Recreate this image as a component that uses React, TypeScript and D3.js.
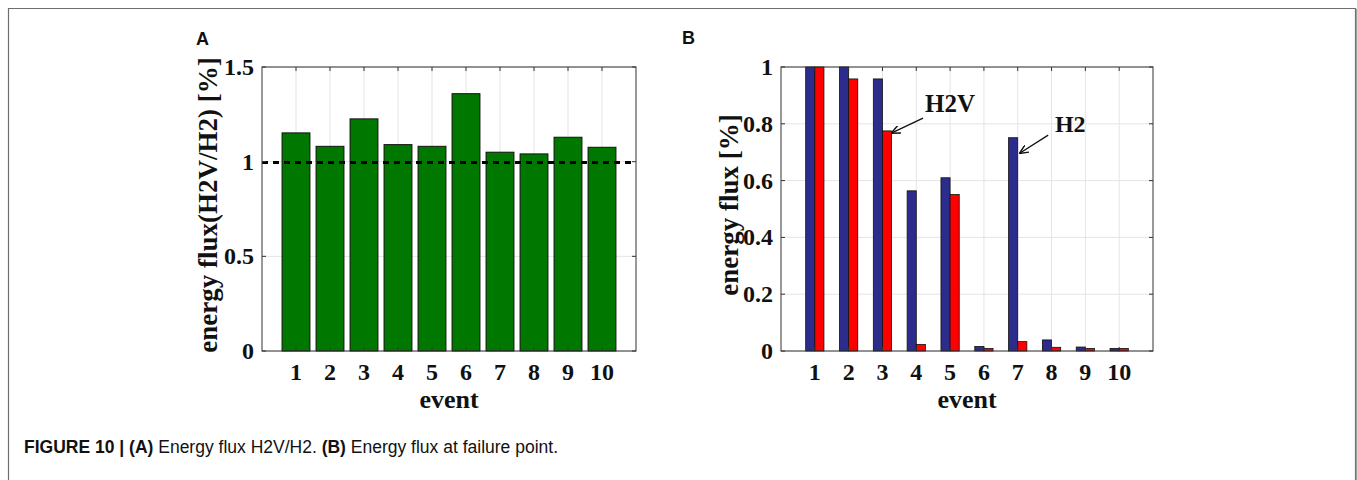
import React from "react";
import * as d3 from "d3";

const events = [1, 2, 3, 4, 5, 6, 7, 8, 9, 10];
const ratioH2VH2 = [1.152, 1.081, 1.226, 1.09, 1.081, 1.359, 1.05, 1.041, 1.129, 1.076];
const refRatio = 0.995;
const fluxH2 = [1.0, 1.0, 0.958, 0.564, 0.61, 0.016, 0.751, 0.039, 0.014, 0.009];
const fluxH2V = [1.0, 0.958, 0.775, 0.023, 0.551, 0.009, 0.033, 0.013, 0.009, 0.009];
const ticksA = [0, 0.5, 1, 1.5];
const ticksB = [0, 0.2, 0.4, 0.6, 0.8, 1];

const SERIF = "'Liberation Serif', 'Times New Roman', serif";
const SANS = "'Liberation Sans', Arial, Helvetica, sans-serif";
const GREEN = "#007800";
const BLUE = "#2c2c8c";
const RED = "#ff0000";
const GRID = "#e4e4e4";

function fmt(v: number) {
  return String(+v.toFixed(2));
}

function Frame({ x, y, left, right, top, bottom, yTicks }: any) {
  return (
    <g>
      {events.map((e) => (
        <line key={"gx" + e} x1={x(e)} x2={x(e)} y1={top} y2={bottom} stroke={GRID} strokeWidth={1} />
      ))}
      {yTicks.map((t: number) => (
        <line key={"gy" + t} x1={left} x2={right} y1={y(t)} y2={y(t)} stroke={GRID} strokeWidth={1} />
      ))}
    </g>
  );
}

function AxisOverlay({ x, y, left, right, top, bottom, yTicks, xlabelY, ylabel, ylabelX }: any) {
  const tl = 4;
  return (
    <g>
      <rect x={left} y={top} width={right - left} height={bottom - top} fill="none" stroke="#333" strokeWidth={1} />
      {events.map((e) => (
        <g key={"tx" + e}>
          <line x1={x(e)} x2={x(e)} y1={bottom} y2={bottom - tl} stroke="#333" />
          <line x1={x(e)} x2={x(e)} y1={top} y2={top + tl} stroke="#333" />
          <text x={x(e)} y={380} textAnchor="middle" fontFamily={SERIF} fontWeight="bold" fontSize={24} fill="#111">
            {e}
          </text>
        </g>
      ))}
      {yTicks.map((t: number) => (
        <g key={"ty" + t}>
          <line x1={left} x2={left + tl} y1={y(t)} y2={y(t)} stroke="#333" />
          <line x1={right} x2={right - tl} y1={y(t)} y2={y(t)} stroke="#333" />
          <text x={left - 8} y={y(t) + 8} textAnchor="end" fontFamily={SERIF} fontWeight="bold" fontSize={24} fill="#111">
            {fmt(t)}
          </text>
        </g>
      ))}
      <text x={(left + right) / 2} y={xlabelY} textAnchor="middle" fontFamily={SERIF} fontWeight="bold" fontSize={26} fill="#111">
        event
      </text>
      <text
        transform={`translate(${ylabelX},${(top + bottom) / 2 - 4}) rotate(-90)`}
        textAnchor="middle"
        fontFamily={SERIF}
        fontWeight="bold"
        fontSize={27}
        fill="#111"
      >
        {ylabel}
      </text>
    </g>
  );
}

export default function App() {
  const top = 67;
  const bottom = 351;
  const xA = d3.scaleLinear().domain([0, 11]).range([262, 636]);
  const yA = d3.scaleLinear().domain([0, 1.5]).range([bottom, top]);
  const xB = d3.scaleLinear().domain([0, 11]).range([781, 1153]);
  const yB = d3.scaleLinear().domain([0, 1]).range([bottom, top]);
  const wA = xA(0.82) - xA(0);
  const wB = xB(0.27) - xB(0);

  const arrows = [
    { label: "H2V", tip: [3.28, 0.768], tail: [4.2, 0.82], text: [4.26, 0.842], size: 25 },
    { label: "H2", tip: [7.07, 0.697], tail: [7.9, 0.76], text: [8.1, 0.771], size: 24 },
  ];

  return (
    <svg width={1357} height={480} style={{ position: "absolute", left: 0, top: 0, background: "#fff" }}>
      <defs>
        <marker id="ah" viewBox="0 0 10 10" refX={9} refY={5} markerWidth={9} markerHeight={9} orient="auto" markerUnits="userSpaceOnUse">
          <path d="M0,0.5 L10,5 L0,9.5" fill="none" stroke="#111" strokeWidth={1.6} />
        </marker>
      </defs>
      <rect x={0} y={0} width={1357} height={480} fill="#fff" />
      <path d="M8.5,490 L8.5,8.5 L1355.5,8.5 L1355.5,490" fill="none" stroke="#6e6e6e" strokeWidth={1.2} />
      <line x1={1356.3} x2={1356.3} y1={9} y2={480} stroke="#8a8a8a" strokeWidth={1} />

      <text x={196} y={45} fontFamily={SANS} fontWeight="bold" fontSize={18} fill="#111">A</text>
      <text x={682} y={44} fontFamily={SANS} fontWeight="bold" fontSize={18} fill="#111">B</text>

      {/* Panel A */}
      <Frame x={xA} y={yA} left={262} right={636} top={top} bottom={bottom} yTicks={ticksA} />
      {events.map((e, i) => (
        <rect
          key={"a" + e}
          x={xA(e) - wA / 2}
          y={yA(ratioH2VH2[i])}
          width={wA}
          height={yA(0) - yA(ratioH2VH2[i])}
          fill={GREEN}
          stroke="#111"
          strokeWidth={1}
        />
      ))}
      <line x1={262} x2={636} y1={yA(refRatio)} y2={yA(refRatio)} stroke="#000" strokeWidth={3} strokeDasharray="6,5" />
      <AxisOverlay
        x={xA}
        y={yA}
        left={262}
        right={636}
        top={top}
        bottom={bottom}
        yTicks={ticksA}
        xlabelY={408}
        ylabel="energy flux(H2V/H2) [%]"
        ylabelX={217}
      />

      {/* Panel B */}
      <Frame x={xB} y={yB} left={781} right={1153} top={top} bottom={bottom} yTicks={ticksB} />
      {events.map((e, i) => (
        <g key={"b" + e}>
          <rect x={xB(e) - wB} y={yB(fluxH2[i])} width={wB} height={yB(0) - yB(fluxH2[i])} fill={BLUE} stroke="#111" strokeWidth={0.8} />
          <rect x={xB(e)} y={yB(fluxH2V[i])} width={wB} height={yB(0) - yB(fluxH2V[i])} fill={RED} stroke="#111" strokeWidth={0.8} />
        </g>
      ))}
      <AxisOverlay
        x={xB}
        y={yB}
        left={781}
        right={1153}
        top={top}
        bottom={bottom}
        yTicks={ticksB}
        xlabelY={408}
        ylabel="energy flux [%]"
        ylabelX={738}
      />
      {arrows.map((a) => (
        <g key={a.label}>
          <line x1={xB(a.tail[0])} y1={yB(a.tail[1])} x2={xB(a.tip[0])} y2={yB(a.tip[1])} stroke="#111" strokeWidth={1.3} markerEnd="url(#ah)" />
          <text x={xB(a.text[0])} y={yB(a.text[1])} fontFamily={SERIF} fontWeight="bold" fontSize={a.size} fill="#111">
            {a.label}
          </text>
        </g>
      ))}

      <text x={24} y={453} fontFamily={SANS} fontSize={17.5} fill="#111">
        <tspan fontWeight="bold">FIGURE 10 | (A)</tspan>
        <tspan> Energy flux H2V/H2. </tspan>
        <tspan fontWeight="bold">(B)</tspan>
        <tspan> Energy flux at failure point.</tspan>
      </text>
    </svg>
  );
}
